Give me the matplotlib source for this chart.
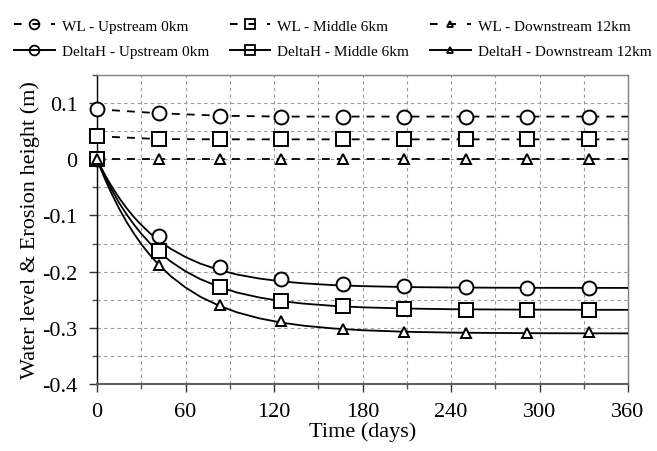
import matplotlib
matplotlib.use("Agg")
import matplotlib.pyplot as plt
from matplotlib.lines import Line2D
from matplotlib.ticker import MultipleLocator

plt.rcParams['font.family'] = ['Liberation Serif', 'DejaVu Serif']

# marker sample days
marker_days = [0, 41.7, 83.3, 125, 166.7, 208.3, 250, 291.7, 333.3]

# water level (dashed lines), extended to the right edge
wl_days = [0, 41.7, 83.3, 125, 166.7, 208.3, 250, 291.7, 333.3, 360]
wl_up = [0.089, 0.082, 0.0775, 0.076, 0.076, 0.076, 0.076, 0.076, 0.076, 0.076]
wl_mid = [0.041, 0.036, 0.0355, 0.0355, 0.0355, 0.0355, 0.0355, 0.0355, 0.0355, 0.0355]
wl_down = [0.001, 0.001, 0.001, 0.001, 0.001, 0.001, 0.001, 0.001, 0.001, 0.001]

# erosion height markers
dh_up = [0.0, -0.1365, -0.191, -0.2135, -0.222, -0.226, -0.228, -0.229, -0.229]
dh_mid = [0.0, -0.163, -0.2265, -0.253, -0.262, -0.2665, -0.268, -0.269, -0.269]
dh_down = [0.0, -0.1885, -0.260, -0.2885, -0.3015, -0.307, -0.309, -0.309, -0.308]

# erosion height fitted curves
curve_days = [0, 2.5, 5, 7.5, 10, 15, 20, 25, 30, 36, 42, 50, 60, 70, 83, 95, 110, 125,
              140, 160, 180, 210, 240, 270, 300, 330, 360]
curve_up = [0.0, -0.0133, -0.0257, -0.0375, -0.0485, -0.0687, -0.0867, -0.1028, -0.1168,
            -0.1319, -0.1447, -0.1594, -0.174, -0.1857, -0.1972, -0.2052, -0.2123, -0.2173,
            -0.2208, -0.224, -0.2258, -0.2275, -0.2282, -0.2286, -0.2288, -0.2289, -0.229]
curve_mid = [0.0, -0.0148, -0.0288, -0.0421, -0.0545, -0.0775, -0.0978, -0.116, -0.1324,
             -0.1498, -0.1648, -0.182, -0.1994, -0.2133, -0.2273, -0.2372, -0.246, -0.2525,
             -0.2569, -0.2609, -0.2635, -0.2657, -0.2669, -0.2674, -0.2677, -0.2679, -0.268]
curve_down = [0.0, -0.0168, -0.0326, -0.0477, -0.0617, -0.0877, -0.1113, -0.1321, -0.151,
              -0.1708, -0.1882, -0.208, -0.2282, -0.2446, -0.261, -0.2725, -0.2831, -0.2907,
              -0.2962, -0.3011, -0.3043, -0.3071, -0.3085, -0.3092, -0.3096, -0.3098, -0.3099]

labels_wl = ['WL - Upstream 0km', 'WL - Middle 6km', 'WL - Downstream 12km']
labels_dh = ['DeltaH - Upstream 0km', 'DeltaH - Middle 6km', 'DeltaH - Downstream 12km']
markers = ['o', 's', '^']
msizes = [10, 9.5, 7.5]
leg_msizes = [7, 6.5, 5]

W, H = 657, 452
fig = plt.figure(figsize=(W / 100, H / 100), dpi=100)
ax = fig.add_axes([97 / W, 1 - 385 / H, (628 - 97) / W, (385 - 76) / H])

dash = (0, (4.4, 3.9))
for ys, m, ms in zip([wl_up, wl_mid, wl_down], markers, msizes):
    ax.plot(wl_days, ys, color='black', lw=1.3, linestyle=dash, marker=m, ms=ms,
            mfc='white', mec='black', mew=1.4, markevery=list(range(len(marker_days))),
            zorder=3, clip_on=False)

for ys in [curve_up, curve_mid, curve_down]:
    ax.plot(curve_days, ys, color='black', lw=1.3, zorder=3)

for ys, m, ms in zip([dh_up, dh_mid, dh_down], markers, msizes):
    ax.plot(marker_days, ys, linestyle='none', marker=m, ms=ms, mfc='white',
            mec='black', mew=1.4, zorder=4, clip_on=False)

ax.set_xlim(0, 360)
ax.set_ylim(-0.4, 0.15)
ax.xaxis.set_minor_locator(MultipleLocator(30))
ax.yaxis.set_minor_locator(MultipleLocator(0.05))
ax.set_yticks([-0.4, -0.3, -0.2, -0.1, 0, 0.1])
ax.set_yticklabels(['-0.4', '-0.3', '-0.2', '-0.1', '0', '0.1'])
ax.set_xticks([0, 60, 120, 180, 240, 300, 360])
ax.set_xticklabels(['0', '60', '120', '180', '240', '300', '360'])

ax.grid(True, which='both', color='#9a9a9a', linestyle=(0, (3, 3)), lw=0.8, zorder=0)
ax.set_axisbelow(True)
ax.tick_params(which='major', direction='out', length=6, width=1, labelsize=16, color='#333333')
ax.tick_params(which='minor', direction='out', length=3.6, width=1, color='#555555')
ax.tick_params(axis='x', which='major', pad=7)
ax.tick_params(axis='y', which='major', pad=8)

for s in ['top', 'right']:
    ax.spines[s].set_color('#808080')
    ax.spines[s].set_linewidth(1.0)
ax.spines['bottom'].set_color('#606060')
ax.spines['bottom'].set_linewidth(1.5)
ax.spines['left'].set_color('black')
ax.spines['left'].set_linewidth(1.0)

ax.set_xlabel('Time (days)', fontsize=16, labelpad=0)
ax.set_ylabel('Water level & Erosion height (m)', fontsize=16, labelpad=1.5)

handles = []
labels = []
for i in range(3):
    handles.append(Line2D([], [], color='black', lw=1.4, linestyle=(0, (3.9, 5.6)), marker=markers[i],
                          ms=leg_msizes[i], mfc='none', mec='black', mew=1.3))
    labels.append(labels_wl[i])
    handles.append(Line2D([], [], color='black', lw=1.4, linestyle='-', marker=markers[i],
                          ms=leg_msizes[i], mfc='none', mec='black', mew=1.3))
    labels.append(labels_dh[i])

fig.legend(handles, labels, ncol=3, loc='upper left', bbox_to_anchor=(14 / W, 1 - 20 / H),
           frameon=False, fontsize=11, handlelength=2.68, numpoints=1, borderpad=0,
           columnspacing=1.34, handletextpad=0.45, labelspacing=0.75, borderaxespad=0)

fig.savefig('out.png', dpi=100)
